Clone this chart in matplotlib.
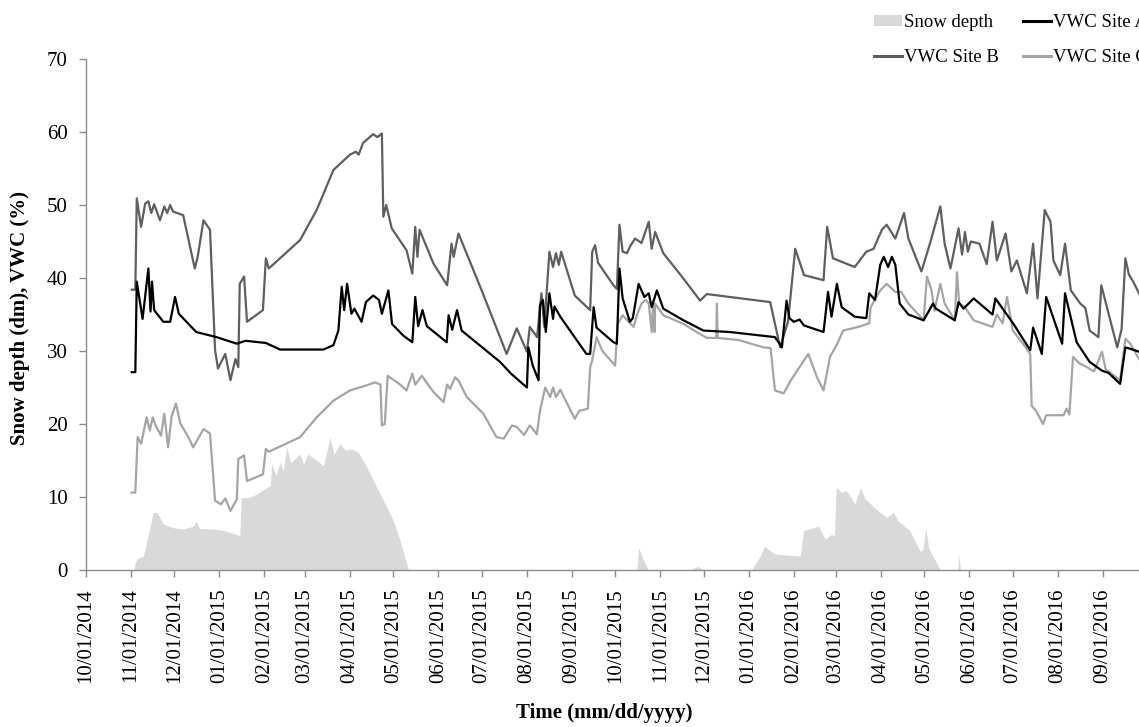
import numpy as np
import pandas as pd
import matplotlib
matplotlib.use('Agg')
import matplotlib.pyplot as plt
import matplotlib.dates as mdates
from matplotlib.patches import Patch
from matplotlib.lines import Line2D

plt.rcParams['font.family'] = ['Liberation Serif', 'DejaVu Serif']

START = pd.Timestamp('2014-10-01')
END_DAY = 726

# ---- data (days since 10/01/2014, value) ----
site_b_days = [31.5, 34, 35, 38, 40.8, 43, 45, 47, 51, 54, 56, 58, 60, 67, 75, 77, 81, 85.5, 89, 91, 96, 99.6,
               103, 105, 106, 109, 111, 122, 124, 126, 147.6, 159, 170.6, 182, 186, 188, 191, 198, 201, 204,
               205, 207, 210.8, 221, 225, 227, 228.5, 230, 239.5, 249, 252, 253.5, 256.8, 273, 290, 297, 304,
               306, 311, 314, 316, 319.5, 322, 324, 326, 327.6, 337, 347.6, 349, 351, 353, 363.7, 366, 367.8,
               370, 373, 375, 378.6, 383, 388, 390, 392.4, 398, 412, 423.4, 428, 444, 471.7, 478.6, 484, 489,
               495, 508.5, 511, 515, 530, 538, 543, 548.7, 552, 558, 564, 567, 576, 582, 589, 592, 596, 601.6,
               604, 606, 608, 610, 616, 621, 625, 628, 634, 638, 641.8, 648.7, 653, 656, 661, 665, 667, 671.7,
               675, 679, 685.5, 689, 692, 698, 700, 711, 714, 716.6, 719, 722, 726]
site_b_vwc = [38.4, 38.4, 50.9, 47.0, 50.2, 50.5, 48.9, 50.1, 47.9, 49.8, 48.9, 50.0, 49.1, 48.6, 41.3, 42.9,
              47.9, 46.6, 30.1, 27.6, 29.6, 26.0, 28.9, 27.8, 39.2, 40.2, 34.0, 35.6, 42.7, 41.3, 45.2, 49.3,
              54.8, 56.9, 57.3, 56.9, 58.5, 59.7, 59.3, 59.8, 48.4, 50.0, 46.8, 43.8, 40.6, 47.0, 42.9, 46.6,
              42.0, 39.0, 44.7, 42.9, 46.1, 38.2, 29.6, 33.1, 29.9, 33.3, 31.9, 37.9, 33.3, 43.6, 41.5, 43.4,
              41.8, 43.6, 37.6, 35.6, 43.6, 44.5, 42.1, 39.0, 38.5, 47.3, 43.6, 43.4, 44.3, 45.4, 44.8, 47.7,
              44.0, 46.3, 43.4, 39.9, 36.9, 37.8, 37.4, 36.7, 30.5, 34.0, 44.0, 40.4, 39.7, 47.0, 42.7, 41.5,
              43.6, 44.0, 46.6, 47.3, 45.4, 48.9, 45.4, 40.9, 44.8, 49.8, 44.7, 41.3, 46.8, 43.2, 46.3, 43.6,
              45.0, 44.7, 41.9, 47.7, 42.4, 46.1, 40.9, 42.4, 37.9, 44.7, 37.2, 49.3, 47.7, 42.4, 40.4, 44.7,
              38.3, 36.5, 35.9, 32.8, 31.9, 39.0, 30.5, 33.0, 42.7, 40.5, 39.5, 37.9]

site_a_days = [31.5, 34, 35, 39, 43, 44.5, 45.5, 47, 53.3, 58, 61.4, 64, 76, 90, 104, 110, 124, 133.8, 163.7,
               170.6, 174, 176.3, 178, 180, 183, 185, 190, 193, 198, 202, 204, 208.5, 211, 218.8, 225, 227, 229,
               232, 235, 248.7, 250, 252.5, 255.8, 259, 285.5, 293, 304, 305, 308, 312, 313, 315, 317, 319.5,
               322, 323, 327, 345, 347.6, 350, 352, 363.7, 366, 367.8, 370, 375, 377, 381, 385, 388, 390, 393.6,
               398, 412, 425.7, 444, 475, 479.8, 483, 485, 488, 492, 495, 508.5, 511.6, 514, 517.7, 521, 530,
               538, 540, 544, 547.6, 550, 553, 555.6, 558, 561, 567, 577.5, 584, 586, 599, 601.6, 605, 612, 625,
               627, 639.5, 651, 653, 659, 662, 673, 675, 683, 692, 700.5, 705, 713, 716.6, 720, 726]
site_a_vwc = [27.1, 27.1, 39.5, 34.4, 41.3, 35.4, 39.5, 35.6, 34.0, 34.0, 37.4, 35.1, 32.6, 31.9, 31.0, 31.4,
              31.1, 30.2, 30.2, 30.8, 32.8, 38.8, 35.6, 39.2, 35.1, 35.8, 34.0, 36.7, 37.6, 37.0, 35.1, 38.3,
              33.7, 32.1, 31.2, 37.4, 33.4, 35.6, 33.4, 31.2, 34.9, 32.9, 35.6, 32.8, 28.5, 26.9, 25.0, 30.5,
              28.0, 26.0, 36.3, 37.0, 32.6, 37.9, 34.4, 36.1, 34.7, 29.6, 29.6, 36.0, 33.2, 31.2, 31.0, 41.3,
              37.2, 34.0, 34.5, 39.2, 37.4, 37.9, 36.0, 38.3, 35.8, 34.2, 32.8, 32.6, 31.9, 30.5, 36.9, 34.5,
              34.0, 34.3, 33.5, 32.6, 38.1, 34.7, 39.2, 36.0, 34.7, 34.5, 37.9, 37.0, 41.8, 42.9, 41.5, 42.9,
              41.8, 36.5, 35.0, 34.2, 36.5, 35.8, 34.2, 36.7, 35.8, 37.2, 35.0, 37.2, 33.7, 30.1, 33.2, 29.6,
              37.4, 31.0, 37.9, 31.2, 28.5, 27.3, 27.0, 25.5, 30.5, 30.3, 29.9]

site_c_days = [31.5, 34, 35.6, 38, 41.8, 44, 46, 48, 51.7, 54, 56.6, 59, 62, 65, 70.6, 73.9, 81, 85.5, 89, 93,
               96, 99.6, 104, 105, 109, 111, 122, 124, 126, 147.6, 159, 170.6, 182, 193.6, 199, 203, 204, 206,
               208, 216.6, 221, 225, 227, 231.5, 239.5, 246.5, 249, 251, 254.5, 257, 262.5, 274, 283, 288,
               293.6, 297, 302, 306, 310.8, 313, 316.6, 320, 322, 324, 327, 337, 340, 346, 347.6, 349, 352, 356,
               364.8, 366.6, 370, 377.5, 380, 383, 386, 388, 390, 391, 392, 392.4, 398, 412, 421, 428, 434.5,
               435, 435.5, 450, 467, 472, 475, 481, 486, 492, 498, 504, 508.5, 513, 518, 522, 532.6, 540, 541,
               547.6, 552, 558, 562, 567, 577.5, 579.8, 583, 585, 589, 592, 599, 600.5, 602, 606, 612, 625, 628,
               632, 635, 639, 646, 651, 652, 655, 659.8, 662, 674, 676, 678, 680.5, 685, 690, 695, 700.5, 703,
               713, 716.6, 720, 726]
site_c_vwc = [10.6, 10.6, 18.2, 17.3, 20.9, 19.1, 20.9, 19.8, 18.4, 21.4, 16.8, 21.0, 22.8, 20.1, 18.2, 16.8,
              19.3, 18.7, 9.5, 9.0, 9.8, 8.1, 9.7, 15.2, 15.7, 12.2, 13.1, 16.6, 16.2, 18.2, 20.9, 23.2, 24.6,
              25.3, 25.7, 25.4, 19.8, 20.0, 26.6, 25.4, 24.6, 26.9, 25.4, 26.6, 24.4, 23.0, 25.4, 24.8, 26.4,
              25.9, 23.7, 21.4, 18.2, 18.0, 19.8, 19.6, 18.5, 19.8, 18.6, 21.8, 25.0, 23.7, 25.0, 23.7, 24.7,
              20.7, 21.8, 22.1, 27.8, 28.7, 31.9, 30.0, 28.0, 33.7, 34.9, 33.3, 35.0, 36.5, 37.0, 36.5, 32.6,
              36.5, 32.6, 36.5, 34.9, 33.7, 32.6, 31.8, 31.8, 36.5, 31.8, 31.5, 30.5, 30.4, 24.6, 24.2, 26.0,
              27.8, 29.6, 26.4, 24.6, 29.2, 31.0, 32.8, 33.3, 33.8, 36.0, 38.3, 39.2, 38.1, 38.1, 36.5, 34.2,
              40.2, 38.3, 35.5, 39.2, 36.5, 34.2, 40.8, 36.5, 36.0, 34.2, 33.3, 35.0, 33.8, 37.4, 32.8, 31.0,
              29.6, 22.5, 21.8, 20.0, 21.2, 21.2, 22.1, 21.3, 29.2, 28.3, 27.8, 27.2, 29.9, 27.5, 26.0, 31.7,
              31.0, 28.9]

snow_days = [0, 33, 34, 35, 39.5, 43, 46.4, 49, 53.3, 60, 67, 74, 76, 78, 90, 97, 106, 107, 112, 117.7, 124.6,
             127, 128, 131, 134, 136, 138.4, 141, 147.6, 150, 153, 163.7, 168.3, 171, 175, 179, 183, 187.8,
             193.6, 200.5, 207.4, 212, 216.6, 222.3, 379.8, 381, 384, 387.8, 416, 422, 426, 459, 464.8, 468,
             471, 475, 492.4, 494.7, 501.6, 505, 509.7, 514, 516, 517.2, 521, 524, 527, 530, 534, 537, 545,
             552, 556.8, 560, 568, 575, 577, 579, 581, 589, 601, 601.6, 603, 726]
snow_depth = [0, 0, 1.0, 1.5, 1.9, 4.9, 7.9, 7.9, 6.3, 5.8, 5.6, 6.0, 6.7, 5.7, 5.6, 5.3, 4.7, 9.9, 9.9, 10.4,
              11.3, 11.5, 14.5, 13.0, 14.8, 13.5, 16.8, 14.7, 15.9, 14.5, 15.9, 14.3, 18.2, 15.8, 17.3, 16.4,
              16.6, 16.1, 14.1, 11.3, 8.6, 6.7, 4.0, 0, 0, 3.1, 1.5, 0, 0, 0.5, 0, 0, 1.9, 3.3, 2.7, 2.2, 1.9,
              5.4, 5.8, 6.0, 4.2, 4.9, 4.6, 11.3, 10.6, 10.9, 10.1, 9.0, 11.3, 9.8, 8.3, 7.2, 7.9, 6.7, 5.4,
              2.6, 2.8, 5.8, 3.0, 0, 0, 2.2, 0, 0]

y_ticks = [0, 10, 20, 30, 40, 50, 60, 70]


def to_dates(days):
    return START + pd.to_timedelta(np.asarray(days, dtype=float), unit='D')


W, H = 1139, 727
fig = plt.figure(figsize=(W / 100, H / 100), dpi=100)
ax = fig.add_axes([86 / W, 1 - 570 / H, 1 - 86 / W, (570 - 59) / H])

snow_col = '#d9d9d9'
col_a, col_b, col_c = '#000000', '#5f5f5f', '#a5a5a5'

ax.fill_between(to_dates(snow_days), snow_depth, 0, color=snow_col, lw=0, zorder=1)
ax.plot(to_dates(site_c_days), site_c_vwc, color=col_c, lw=1.6, zorder=2)
ax.plot(to_dates(site_b_days), site_b_vwc, color=col_b, lw=1.6, zorder=3)
ax.plot(to_dates(site_a_days), site_a_vwc, color=col_a, lw=1.6, zorder=4)

ax.set_ylim(0, 70)
ax.set_xlim(START, START + pd.Timedelta(days=END_DAY))
ax.set_yticks(y_ticks)
ax.xaxis.set_major_locator(mdates.MonthLocator(bymonthday=1))
ax.xaxis.set_major_formatter(mdates.DateFormatter('%m/%d/%Y'))

spine_col = '#8c8c8c'
for s in ['top', 'right']:
    ax.spines[s].set_visible(False)
for s in ['left', 'bottom']:
    ax.spines[s].set_color(spine_col)
    ax.spines[s].set_linewidth(1.0)
ax.tick_params(axis='both', colors=spine_col, labelcolor='black', labelsize=15, length=5, width=1.0, pad=8)
for lab in ax.get_xticklabels():
    lab.set_rotation(90)

fig.text(604 / W, 1 - 713 / H, 'Time (mm/dd/yyyy)', ha='center', va='center',
         fontsize=15, fontweight='bold')
fig.text(20 / W, 1 - 318 / H, 'Snow depth (dm), VWC (%)', ha='center', va='center',
         rotation=90, fontsize=15, fontweight='bold')

handles = [Patch(facecolor=snow_col, edgecolor='none'),
           Line2D([], [], color=col_b, lw=2.2),
           Line2D([], [], color=col_a, lw=2.2),
           Line2D([], [], color=col_c, lw=2.2)]
labels = ['Snow depth', 'VWC Site B', 'VWC Site A', 'VWC Site C']
fig.legend(handles, labels, loc='upper left', bbox_to_anchor=(874 / W, 1 - 14 / H),
           bbox_transform=fig.transFigure, ncol=2, frameon=False, fontsize=13.5,
           handlelength=1.5, handleheight=0.5, handletextpad=0.1, columnspacing=1.3,
           labelspacing=0.95, borderpad=0, borderaxespad=0)

fig.savefig('out.png', dpi=100)
